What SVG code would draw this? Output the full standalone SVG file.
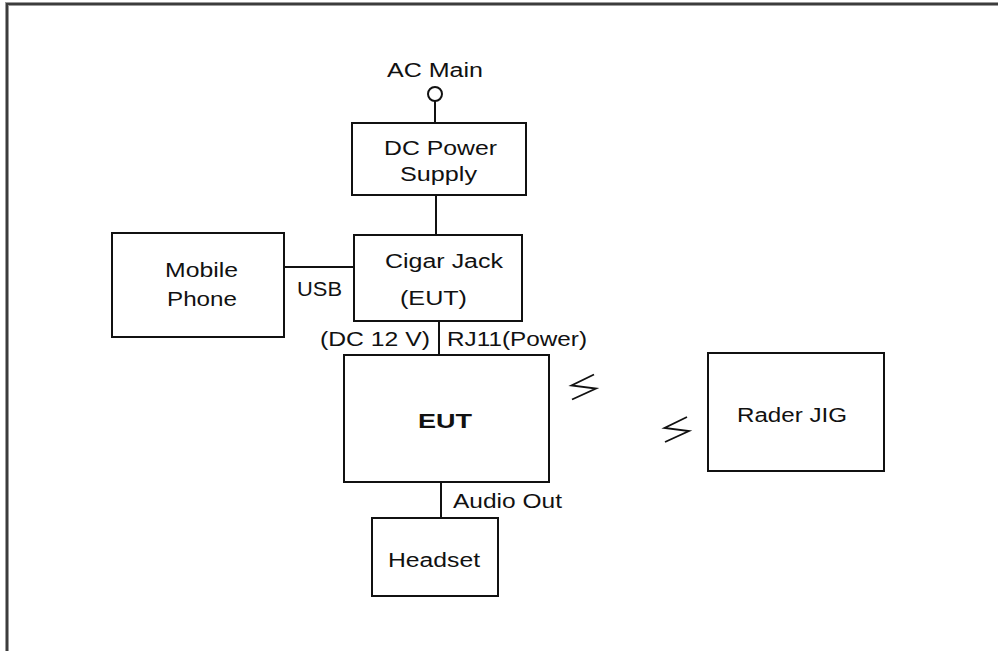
<svg xmlns="http://www.w3.org/2000/svg" width="998" height="651" viewBox="0 0 998 651">
<style>
.box{fill:#fff;stroke:#111;stroke-width:2}
.ln{stroke:#111;stroke-width:2;fill:none}
.bolt{stroke:#111;stroke-width:1.8;fill:none;stroke-linejoin:miter}
text{font-family:"Liberation Sans",Arial,sans-serif;font-size:20px;fill:#111}
.b{font-weight:bold;font-size:20px}
</style>
<rect width="998" height="651" fill="#fff"/>
<path d="M7,651 V4 H998" fill="none" stroke="#9a9a9a" stroke-width="4"/>
<path d="M7,651 V4 H998" fill="none" stroke="#3c3c3c" stroke-width="2"/>
<g id="connectors">
<circle cx="435" cy="94" r="7" class="ln" fill="#fff"/>
<line x1="435" y1="101" x2="435" y2="123" class="ln"/>
<line x1="436" y1="195" x2="436" y2="235" class="ln"/>
<line x1="284" y1="267" x2="354" y2="267" class="ln"/>
<line x1="439" y1="321" x2="439" y2="355" class="ln"/>
<line x1="441" y1="482" x2="441" y2="518" class="ln"/>
<text x="387" y="77" textLength="96" lengthAdjust="spacingAndGlyphs">AC Main</text>
<text x="297" y="296" textLength="45" lengthAdjust="spacingAndGlyphs">USB</text>
<text x="320" y="346" textLength="110" lengthAdjust="spacingAndGlyphs">(DC 12 V)</text>
<text x="447" y="346" textLength="140" lengthAdjust="spacingAndGlyphs">RJ11(Power)</text>
<text x="453" y="508" textLength="109" lengthAdjust="spacingAndGlyphs">Audio Out</text>
<path class="bolt" d="M594,374.5 L571.5,385.5 L596,388.5 L572,399.5"/>
<path class="bolt" d="M687,417 L664.5,428 L689,431 L665,442"/>
</g>
<g id="dc-power-supply">
<rect x="352" y="123" width="174" height="72" class="box"/>
<text x="384" y="155" textLength="113" lengthAdjust="spacingAndGlyphs">DC Power</text>
<text x="400" y="181" textLength="77" lengthAdjust="spacingAndGlyphs">Supply</text>
</g>
<g id="cigar-jack">
<rect x="354" y="235" width="168" height="86" class="box"/>
<text x="385" y="268" textLength="118" lengthAdjust="spacingAndGlyphs">Cigar Jack</text>
<text x="400" y="305" textLength="67" lengthAdjust="spacingAndGlyphs">(EUT)</text>
</g>
<g id="mobile-phone">
<rect x="112" y="233" width="172" height="104" class="box"/>
<text x="165" y="277" textLength="73" lengthAdjust="spacingAndGlyphs">Mobile</text>
<text x="167" y="306" textLength="70" lengthAdjust="spacingAndGlyphs">Phone</text>
</g>
<g id="eut">
<rect x="344" y="355" width="205" height="127" class="box"/>
<text x="418" y="428" class="b" textLength="54" lengthAdjust="spacingAndGlyphs">EUT</text>
</g>
<g id="headset">
<rect x="372" y="518" width="126" height="78" class="box"/>
<text x="388" y="567" textLength="92" lengthAdjust="spacingAndGlyphs">Headset</text>
</g>
<g id="rader-jig">
<rect x="708" y="353" width="176" height="118" class="box"/>
<text x="737" y="422" textLength="110" lengthAdjust="spacingAndGlyphs">Rader JIG</text>
</g>
</svg>
